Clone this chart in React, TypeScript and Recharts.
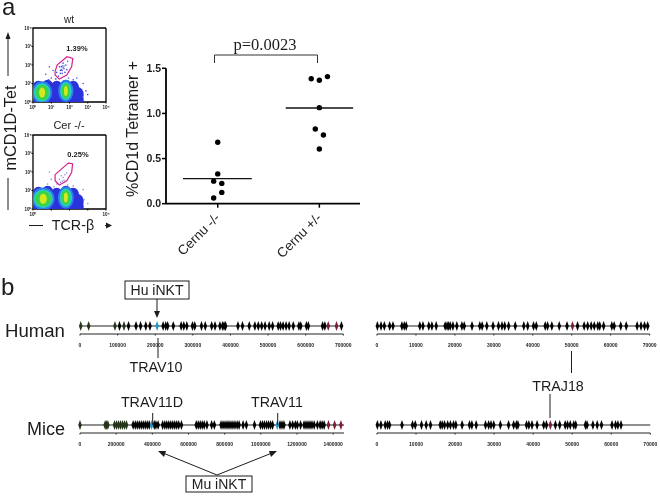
import * as React from "react"
import { ReferenceLine, Scatter, ScatterChart, XAxis, YAxis } from "recharts"

// panel a, dot plot
const groupTicks = [1, 2]
const groupNames = ["Cernu -/-", "Cernu +/-"]
const yTicks = [0, 0.5, 1, 1.5]
const cernuKoX = [1, 1, 0.96, 1.04, 1.04, 0.96]
const cernuKoY = [0.68, 0.33, 0.25, 0.225, 0.125, 0.063]
const cernuHetX = [1.92, 2, 2.08, 2, 1.96, 2.04, 2]
const cernuHetY = [1.385, 1.367, 1.408, 1.064, 0.828, 0.761, 0.606]
const koMeanX = [0.658, 1.335]
const koMean = 0.277
const hetMeanX = [1.669, 2.332]
const hetMean = 1.06

// panel a, flow plots (x, y in log decades)
const decades = [0, 1, 2, 3, 4]
const wtBase = [[0.3, 0.15], [0.75, 0.15], [1.15, 0.15], [1.5, 0.15], [1.85, 0.15], [2.2, 0.15], [2.45, 0.15], [0.3, 0.5], [0.75, 0.5], [1.15, 0.45], [1.5, 0.45], [1.85, 0.5], [2.2, 0.45], [2.45, 0.4], [0.3, 0.75], [0.8, 0.8], [1.3, 0.75], [1.8, 0.8], [2.2, 0.75]]
const wtLeftCore = [[0.5, 0.51]]
const wtRightCore = [[1.8, 0.6]]
const wtSparse = [[1.3, 1.6], [1.45, 1.9], [1.55, 1.75], [1.6, 1.95], [1.7, 1.8], [1.65, 2.1], [1.8, 2.0], [1.5, 1.55], [1.75, 1.6], [1.9, 2.2], [1.4, 1.4], [1.6, 1.55], [1.55, 1.9], [1.7, 1.95], [1.85, 1.75], [1.6, 1.7], [1.5, 1.7], [1.65, 1.85], [1.0, 1.3], [0.7, 1.5], [1.1, 1.7], [0.85, 1.2], [2.4, 1.3], [2.2, 1.2], [1.95, 1.3], [2.75, 1.0], [2.9, 0.6], [0.9, 1.9], [1.25, 1.25], [2.7, 0.3], [3.0, 0.4]]
const wtGate = [[1.21, 1.64], [1.32, 2.0], [1.86, 2.45], [2.18, 2.36], [2.12, 1.92], [1.85, 1.46], [1.44, 1.24], [1.21, 1.46], [1.21, 1.64]]

const cerBase = [[0.25, 0.15], [0.7, 0.15], [1.15, 0.15], [1.5, 0.15], [1.85, 0.15], [2.2, 0.15], [2.45, 0.15], [0.25, 0.5], [0.7, 0.5], [1.15, 0.45], [1.5, 0.45], [1.85, 0.5], [2.2, 0.45], [2.45, 0.4], [0.3, 0.8], [0.8, 0.85], [1.3, 0.75], [1.8, 0.85], [2.2, 0.75]]
const cerLeftCore = [[0.56, 0.55]]
const cerRightCore = [[1.8, 0.62]]
const cerSparse = [[1.45, 1.6], [1.55, 1.8], [1.65, 1.7], [1.6, 1.5], [1.75, 1.85], [1.5, 1.45], [1.85, 1.95], [1.7, 1.55], [1.0, 1.6], [0.8, 1.35], [1.15, 1.2], [0.9, 2.0], [2.2, 1.25], [2.75, 1.05], [1.9, 1.3], [1.3, 1.35], [2.8, 0.5], [3.0, 0.3]]
const cerGate = [[1.21, 1.86], [1.57, 2.17], [1.93, 2.48], [2.17, 2.45], [2.12, 1.99], [1.85, 1.53], [1.44, 1.3], [1.21, 1.53], [1.21, 1.86]]

// panel b, gene loci
const humanVTicks = [0, 100000, 200000, 300000, 400000, 500000, 600000, 700000]
const humanVGenes = [105000, 129000, 149000, 161000, 175000, 186000, 221000, 228000, 233000, 248000, 269000, 276000, 284000, 299000, 305000, 323000, 333000, 350000, 359000, 372000, 379000, 383000, 387000, 420000, 432000, 450000, 465000, 474000, 483000, 492000, 503000, 512000, 527000, 533000, 540000, 548000, 556000, 567000, 582000, 587000, 602000, 607000, 645000, 651000, 695000]
const humanVGreen = [2000, 23000, 93000, 117000]
const humanVCyan = [205000]
const humanVRed = [660000, 682000]

const humanJTicks = [0, 10000, 20000, 30000, 40000, 50000, 60000, 70000]
const humanJGenes = [100, 1030, 1880, 3250, 4100, 6400, 7000, 7500, 11000, 11800, 13300, 14100, 15200, 17500, 18000, 18400, 18800, 19500, 20500, 21800, 22400, 24400, 26400, 27000, 28200, 29800, 31200, 32100, 32800, 33800, 35500, 37700, 38700, 40200, 40900, 43200, 43800, 44900, 46800, 48800, 51500, 53200, 54100, 55000, 55800, 56700, 57200, 58200, 60300, 60900, 62600, 64000, 66800, 67800, 68700, 69500]
const humanJRed = [50200]

const miceVTicks = [0, 200000, 400000, 600000, 800000, 1000000, 1200000, 1400000]
const miceVGenes = [294000, 306000, 317000, 328000, 339000, 350000, 361000, 372000, 383000, 411000, 420000, 432000, 457000, 469000, 480000, 491000, 502000, 513000, 524000, 535000, 546000, 561000, 643000, 654000, 665000, 676000, 687000, 702000, 728000, 743000, 780000, 791000, 802000, 813000, 824000, 835000, 846000, 857000, 869000, 880000, 902000, 920000, 965000, 998000, 1009000, 1020000, 1032000, 1043000, 1054000, 1065000, 1106000, 1117000, 1128000, 1161000, 1176000, 1191000, 1202000, 1220000, 1239000, 1250000, 1261000, 1272000, 1283000, 1295000, 1313000, 1328000, 1339000, 1350000]
const miceVGreen = [0, 139000, 146000, 154000, 191000, 202000, 213000, 224000, 235000, 246000, 257000]
const miceVCyan = [396000, 1091000]
const miceVRed = [1374000, 1408000, 1443000]

const miceJTicks = [0, 10000, 20000, 30000, 40000, 50000, 60000, 70000]
const miceJGenes = [100, 1000, 2100, 2700, 3200, 6400, 9100, 9800, 11400, 12600, 13700, 16200, 16700, 17300, 18100, 18800, 19600, 20200, 21800, 23700, 24300, 25400, 27800, 28600, 29200, 29900, 31600, 33700, 35000, 35700, 36100, 38300, 38900, 39700, 41000, 42700, 43400, 45700, 46800, 48200, 48800, 49500, 50400, 50900, 53400, 53800, 55300, 56400, 57500, 60200, 61100, 61700, 62500]
const miceJRed = [44400]

const INK = "#1c1c1c"
const SANS = '"Liberation Sans", Arial, sans-serif'

const toPoints = (rows: number[][]) => rows.map(([x, y]) => ({ x, y }))

const blob = (rx: number, ry: number, fill: string) => (p: any) => (
  <ellipse cx={p.cx} cy={p.cy} rx={rx} ry={ry} fill={fill} />
)

// one density peak: light blue, cyan, green, yellow going inwards
const core = (rx: number, ry: number) => (p: any) => (
  <g>
    <ellipse cx={p.cx} cy={p.cy} rx={rx + 3.4} ry={ry + 3.6} fill="#2f7fe8" />
    <ellipse cx={p.cx} cy={p.cy} rx={rx + 1.5} ry={ry + 1.5} fill="#27d3c6" />
    <ellipse cx={p.cx} cy={p.cy} rx={rx} ry={ry} fill="#3ad24a" />
    <ellipse cx={p.cx} cy={p.cy} rx={rx * 0.45} ry={ry * 0.66} fill="#d5e81c" />
  </g>
)

const Gene = (fill: string) => (p: any) => (
  <path d={`M${p.cx} ${p.cy - 5}L${p.cx + 1.8} ${p.cy}L${p.cx} ${p.cy + 5}L${p.cx - 1.8} ${p.cy}Z`} fill={fill} />
)

function FlowPlot({ top, base, left, right, leftRx, rightRx, sparse, gate, xLabels, sparseFill }: any) {
  return (
    <div style={{ position: "absolute", left: 22, top, filter: "blur(0.5px)" }}>
      <ScatterChart width={90} height={92} margin={{ top: 6, right: 6, bottom: 0, left: 0 }}>
        <XAxis
          type="number"
          dataKey="x"
          domain={[0, 4]}
          ticks={decades}
          height={12}
          interval={0}
          allowDataOverflow
          tickSize={1.5}
          tickMargin={2}
          axisLine={{ stroke: "#000", strokeWidth: 1.3 }}
          tickLine={{ stroke: "#000" }}
          tick={{ fontSize: 4.5, fill: "#222", fontWeight: 700 }}
          tickFormatter={(v: number) => (xLabels.includes(v) ? `10${"⁰¹²³⁴"[v]}` : "")}
        />
        <YAxis
          type="number"
          dataKey="y"
          domain={[0, 4]}
          ticks={decades}
          width={11}
          interval={0}
          allowDataOverflow
          tickSize={1.5}
          tickMargin={0}
          axisLine={{ stroke: "#000", strokeWidth: 1.3 }}
          tickLine={{ stroke: "#000" }}
          tick={{ fontSize: 4.5, fill: "#222", fontWeight: 700 }}
          tickFormatter={(v: number) => `10${"⁰¹²³⁴"[v]}`}
        />
        <Scatter data={toPoints(base)} isAnimationActive={false} shape={blob(6, 7.5, "#2a32dc")} />
        <Scatter data={toPoints(sparse)} isAnimationActive={false} shape={blob(0.8, 0.8, sparseFill)} />
        <Scatter data={toPoints(left)} isAnimationActive={false} shape={core(leftRx, 7.7)} />
        <Scatter data={toPoints(right)} isAnimationActive={false} shape={core(rightRx, 7.5)} />
        <Scatter
          data={toPoints(gate)}
          isAnimationActive={false}
          line={{ stroke: "#d6218f", strokeWidth: 1.2 }}
          shape={() => null}
        />
        <ReferenceLine x={4} stroke="#000" strokeWidth={1.3} />
        <ReferenceLine y={4} stroke="#000" strokeWidth={1.3} />
      </ScatterChart>
    </div>
  )
}

function Locus({ place, width, ticks, max, genes, green, cyan, red }: any) {
  const row = (list: number[]) => list.map((x) => ({ x, y: 0.5 }))
  return (
    <ScatterChart width={width} height={38} margin={{ top: 0, right: 12, bottom: 0, left: 12 }}
      style={{ position: "absolute", left: place.left, top: place.top }}>
      <XAxis
        type="number"
        dataKey="x"
        domain={[0, max]}
        ticks={ticks}
        interval={0}
        height={22}
        tickSize={1.5}
        tickMargin={8}
        axisLine={{ stroke: "#222", strokeWidth: 1 }}
        tickLine={{ stroke: "#222" }}
        tick={{ fontSize: 5, fontWeight: 700, fill: "#222" }}
      />
      <YAxis type="number" dataKey="y" domain={[0, 1]} hide />
      <ReferenceLine y={0.5} stroke="#222" strokeWidth={1.2} />
      <Scatter data={row(genes)} isAnimationActive={false} shape={Gene("#000")} />
      <Scatter data={row(green)} isAnimationActive={false} shape={Gene("#24351c")} />
      <Scatter data={row(cyan)} isAnimationActive={false} shape={Gene("#1f9ac8")} />
      <Scatter data={row(red)} isAnimationActive={false} shape={Gene("#7a1f33")} />
    </ScatterChart>
  )
}

const GroupTick = ({ x, y, payload }: any) => (
  <g transform={`translate(${x + 3},${y + 9})`}>
    <text textAnchor="end" transform="rotate(-45)" fontSize={13.5} fill="#222" fontFamily={SANS}>
      {groupNames[groupTicks.indexOf(payload.value)]}
    </text>
  </g>
)

function DotPlot() {
  const ko = cernuKoX.map((x, i) => ({ x, y: cernuKoY[i] }))
  const het = cernuHetX.map((x, i) => ({ x, y: cernuHetY[i] }))
  const koLine = koMeanX.map((x) => ({ x, y: koMean }))
  const hetLine = hetMeanX.map((x) => ({ x, y: hetMean }))
  const dot = (p: any) => <circle cx={p.cx} cy={p.cy} r={2.7} fill="#000" />
  return (
    <ScatterChart width={240} height={215} margin={{ top: 18.3, right: 0, bottom: 0, left: 0 }}
      style={{ position: "absolute", left: 120, top: 50 }}>
      <XAxis
        type="number"
        dataKey="x"
        domain={[0.491, 2.4]}
        ticks={groupTicks}
        interval={0}
        height={61.3}
        tickSize={4}
        axisLine={{ stroke: "#000", strokeWidth: 1.8 }}
        tickLine={{ stroke: "#000", strokeWidth: 1.5 }}
        tick={<GroupTick />}
      />
      <YAxis
        type="number"
        dataKey="y"
        domain={[0, 1.5]}
        ticks={yTicks}
        interval={0}
        width={46}
        tickSize={4}
        tickMargin={1}
        axisLine={{ stroke: "#000", strokeWidth: 1.8 }}
        tickLine={{ stroke: "#000", strokeWidth: 1.5 }}
        tick={{ fontSize: 10.5, fontWeight: 700, fill: "#222", fontFamily: SANS }}
        tickFormatter={(v: number) => v.toFixed(1)}
      />
      <Scatter data={ko} isAnimationActive={false} shape={dot} />
      <Scatter data={het} isAnimationActive={false} shape={dot} />
      <Scatter data={koLine} isAnimationActive={false} line={{ stroke: "#111", strokeWidth: 1.3 }} shape={() => null} />
      <Scatter data={hetLine} isAnimationActive={false} line={{ stroke: "#111", strokeWidth: 1.3 }} shape={() => null} />
    </ScatterChart>
  )
}

function Annotations() {
  const txt = { fontFamily: SANS, fill: INK, textAnchor: "middle" as const }
  return (
    <svg width={660} height={497} style={{ position: "absolute", left: 0, top: 0, pointerEvents: "none" }}>
      <text x={2} y={15} fontSize={24} fontFamily={SANS} fill={INK}>a</text>
      <text x={1} y={295} fontSize={24} fontFamily={SANS} fill={INK}>b</text>

      <text x={69} y={23} fontSize={10} {...txt}>wt</text>
      <text x={69} y={129} fontSize={11} {...txt}>Cer -/-</text>
      <text x={77} y={51} fontSize={7.5} fontWeight={700} {...txt}>1.39%</text>
      <text x={78} y={157} fontSize={7.5} fontWeight={700} {...txt}>0.25%</text>

      <text transform="translate(16,128) rotate(-90)" fontSize={16.3} {...txt}>mCD1D-Tet</text>
      <line x1={8} y1={76} x2={8} y2={38} stroke={INK} strokeWidth={1} />
      <polygon points="8,32 5.5,39 10.5,39" fill={INK} />
      <line x1={8} y1={178} x2={8} y2={210} stroke={INK} strokeWidth={1} />
      <text x={73} y={230} fontSize={14.3} {...txt}>TCR-β</text>
      <line x1={29} y1={225.5} x2={43} y2={225.5} stroke={INK} strokeWidth={1} />
      <line x1={105} y1={225.5} x2={108} y2={225.5} stroke={INK} strokeWidth={1} />
      <polygon points="112,225.5 106,222.5 106,228.5" fill={INK} />

      <text transform="translate(138,129) rotate(-90)" fontSize={16} {...txt}>%CD1d Tetramer +</text>
      <text x={265} y={50} fontSize={16.5} fontFamily='"Liberation Serif", serif' fill={INK} textAnchor="middle">p=0.0023</text>
      <path d="M214.5 63V55H317.5V63" fill="none" stroke="#333" strokeWidth={1} />

      <rect x={125} y={281} width={64} height={18} fill="#fff" stroke={INK} strokeWidth={1} />
      <text x={157} y={295} fontSize={14} {...txt}>Hu iNKT</text>
      <line x1={157} y1={299} x2={157} y2={312} stroke={INK} strokeWidth={1} />
      <polygon points="157,318 154,311 160,311" fill={INK} />
      <text x={5} y={337} fontSize={18.6} fontFamily={SANS} fill={INK}>Human</text>
      <line x1={158} y1={338} x2={158} y2={358} stroke={INK} strokeWidth={1} />
      <text x={156} y={372} fontSize={14.3} {...txt}>TRAV10</text>
      <line x1={571.5} y1={351} x2={571.5} y2={373} stroke={INK} strokeWidth={1} />

      <text x={558} y={391} fontSize={14.3} {...txt}>TRAJ18</text>
      <line x1={550} y1={394} x2={550} y2={418} stroke={INK} strokeWidth={1} />
      <text x={27} y={435} fontSize={18} fontFamily={SANS} fill={INK}>Mice</text>
      <text x={152} y={407} fontSize={14.3} {...txt}>TRAV11D</text>
      <line x1={152.7} y1={413} x2={152.7} y2={425} stroke={INK} strokeWidth={1} />
      <text x={277} y={407} fontSize={14.3} {...txt}>TRAV11</text>
      <line x1={277.7} y1={413} x2={277.7} y2={425} stroke={INK} strokeWidth={1} />

      <line x1={217} y1={475} x2={163} y2={453} stroke={INK} strokeWidth={1} />
      <polygon points="158,451 166,451 164,457" fill={INK} />
      <line x1={217} y1={475} x2={272} y2={453} stroke={INK} strokeWidth={1} />
      <polygon points="277,451 269,451 271,457" fill={INK} />
      <rect x={186} y={476} width={66} height={16} fill="#fff" stroke={INK} strokeWidth={1} />
      <text x={219} y={489} fontSize={14} {...txt}>Mu iNKT</text>
    </svg>
  )
}

export default function App() {
  return (
    <div style={{ position: "absolute", left: 0, top: 0, width: 660, height: 497, fontFamily: SANS, overflow: "hidden", filter: "blur(0.3px)" }}>
      <FlowPlot top={22} base={wtBase} left={wtLeftCore} right={wtRightCore} leftRx={6.7} rightRx={4.2}
        sparse={wtSparse} gate={wtGate} xLabels={decades} sparseFill="#4a50d8" />
      <FlowPlot top={129} base={cerBase} left={cerLeftCore} right={cerRightCore} leftRx={8} rightRx={4.6}
        sparse={cerSparse} gate={cerGate} xLabels={[0, 4]} sparseFill="#8a8fe6" />
      <DotPlot />
      <Locus place={{ left: 68, top: 318 }} width={287.3} ticks={humanVTicks} max={700000} genes={humanVGenes} green={humanVGreen}
        cyan={humanVCyan} red={humanVRed} />
      <Locus place={{ left: 364.7, top: 318 }} width={296.6} ticks={humanJTicks} max={70000} genes={humanJGenes} green={[]}
        cyan={[]} red={humanJRed} />
      <Locus place={{ left: 68, top: 417.3 }} width={288} ticks={miceVTicks} max={1460000} genes={miceVGenes} green={miceVGreen}
        cyan={miceVCyan} red={miceVRed} />
      <Locus place={{ left: 364.7, top: 417.3 }} width={297.3} ticks={miceJTicks} max={70000} genes={miceJGenes} green={[]}
        cyan={[]} red={miceJRed} />
      <Annotations />
    </div>
  )
}
